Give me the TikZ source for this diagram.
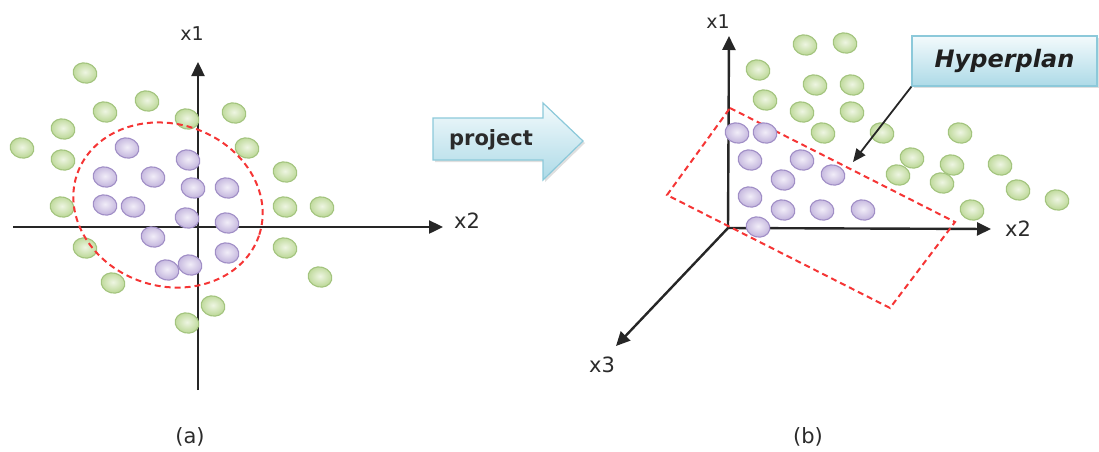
\documentclass[tikz,border=0pt]{standalone}
\usepackage{fontspec}
\setmainfont{DejaVu Sans}
\usetikzlibrary{arrows.meta,shadows}

\definecolor{axiscol}{HTML}{262626}
\definecolor{bordercol}{HTML}{F53535}
\definecolor{ginner}{HTML}{EEF5E2}
\definecolor{gouter}{HTML}{BCD897}
\definecolor{gedge}{HTML}{A3C47E}
\definecolor{pinner}{HTML}{F1EDF8}
\definecolor{pouter}{HTML}{C3B5DD}
\definecolor{pedge}{HTML}{A08EC6}
\definecolor{boxtop}{HTML}{F3FAFC}
\definecolor{boxbot}{HTML}{ADDAE7}
\definecolor{boxedge}{HTML}{8CC9DA}
\definecolor{labcol}{HTML}{2B2B2B}

\tikzset{
  axis/.style={draw=axiscol, line width=2.4pt, -{Triangle[length=14pt,width=13pt]}},
  boundary/.style={draw=bordercol, line width=2pt, dash pattern=on 6pt off 4pt},
  dotshape/.style={shade, line width=1.1pt},
  gdot/.style={dotshape, inner color=ginner, outer color=gouter, draw=gedge},
  pdot/.style={dotshape, inner color=pinner, outer color=pouter, draw=pedge},
  axlabel/.style={font=\fontsize{19}{19}\selectfont, text=labcol, inner sep=0pt},
  caption/.style={font=\fontsize{21}{21}\selectfont, text=labcol, inner sep=0pt},
  bluebox/.style={top color=boxtop, bottom color=boxbot, draw=boxedge, line width=1.2pt,
    drop shadow={shadow xshift=2pt, shadow yshift=-2pt, opacity=0.25}},
  pointer/.style={draw=axiscol, line width=1.8pt, -{Triangle[length=13pt,width=11pt]}}
}

\begin{document}
\begin{tikzpicture}[x=1pt, y=-1pt]
\useasboundingbox (0,0) rectangle (1099,451);

% ---------- (a): data in the original plane ----------
\coordinate (aTop) at (198,62);
\coordinate (aBot) at (198,390);
\coordinate (aLeft) at (13,227);
\coordinate (aRight) at (443,227);
\draw[axis] (aBot) -- (aTop);
\draw[axis] (aLeft) -- (aRight);
\node[axlabel] (ax1) at (192,34) {x1};
\node[axlabel, font=\fontsize{21}{21}\selectfont] (ax2) at (467,221) {x2};

\foreach \x/\y in {85/73,147/101,105/112,187/119,234/113,63/129,22/148,63/160,247/148,
                   285/172,62/207,285/207,322/207,85/248,285/248,113/283,320/277,213/306,187/323}
  \path[gdot, shift={(\x,\y)}, rotate=-15] (0,0) ellipse [x radius=12pt, y radius=10pt];
\foreach \x/\y in {127/148,188/160,105/177,153/177,193/188,227/188,105/205,133/207,
                   187/218,227/223,153/237,227/253,167/270,190/265}
  \path[pdot, shift={(\x,\y)}, rotate=-15] (0,0) ellipse [x radius=12pt, y radius=10pt];

\draw[boundary, rotate around={-18:(168,205)}] (168,205) ellipse [x radius=96pt, y radius=81pt];

\node[caption] (capA) at (190,437) {(a)};

% ---------- projection arrow ----------
\path[bluebox] (433,118) -- (543,118) -- (543,103) -- (583,141) -- (543,180)
  -- (543,160) -- (433,160) -- cycle;
\node[font=\bfseries\fontsize{21}{21}\selectfont, text=labcol, inner sep=0pt] (project) at (491,140) {project};

% ---------- (b): data lifted into three dimensions ----------
\coordinate (bO) at (728,228);
\coordinate (b1) at (729,36);
\coordinate (b2) at (991,229);
\coordinate (b3) at (616,346);
\draw[axis] (bO) -- (b1);
\draw[axis] (bO) -- (b2);
\draw[axis] (bO) -- (b3);
\node[axlabel] (bx1) at (718,22) {x1};
\node[axlabel, font=\fontsize{21}{21}\selectfont] (bx2) at (1018,229) {x2};
\node[axlabel, font=\fontsize{21}{21}\selectfont] (bx3) at (602,365) {x3};

\draw[boundary] (730,108) -- (955,222) -- (890,308) -- (667,195) -- cycle;

\foreach \x/\y in {805/45,845/43,758/70,815/85,852/85,765/100,802/112,852/112,823/133,
                   882/133,960/133,912/158,952/165,1000/165,898/175,942/183,1018/190,1057/200,972/210}
  \path[gdot, shift={(\x,\y)}, rotate=-15] (0,0) ellipse [x radius=12pt, y radius=10pt];
\foreach \x/\y in {737/133,765/133,750/160,802/160,833/175,783/180,750/197,783/210,
                   822/210,863/210,758/227}
  \path[pdot, shift={(\x,\y)}, rotate=-15] (0,0) ellipse [x radius=12pt, y radius=10pt];

\node[bluebox, minimum width=185pt, minimum height=50pt, inner sep=0pt,
      font=\bfseries\itshape\fontsize{24}{24}\selectfont, text=black!88] (hyper) at (1004.5,61) {Hyperplan};
\coordinate (hypTip) at (853,162);
\draw[pointer] (hyper.south west) -- (hypTip);

\node[caption] (capB) at (808,437) {(b)};
\end{tikzpicture}
\end{document}
